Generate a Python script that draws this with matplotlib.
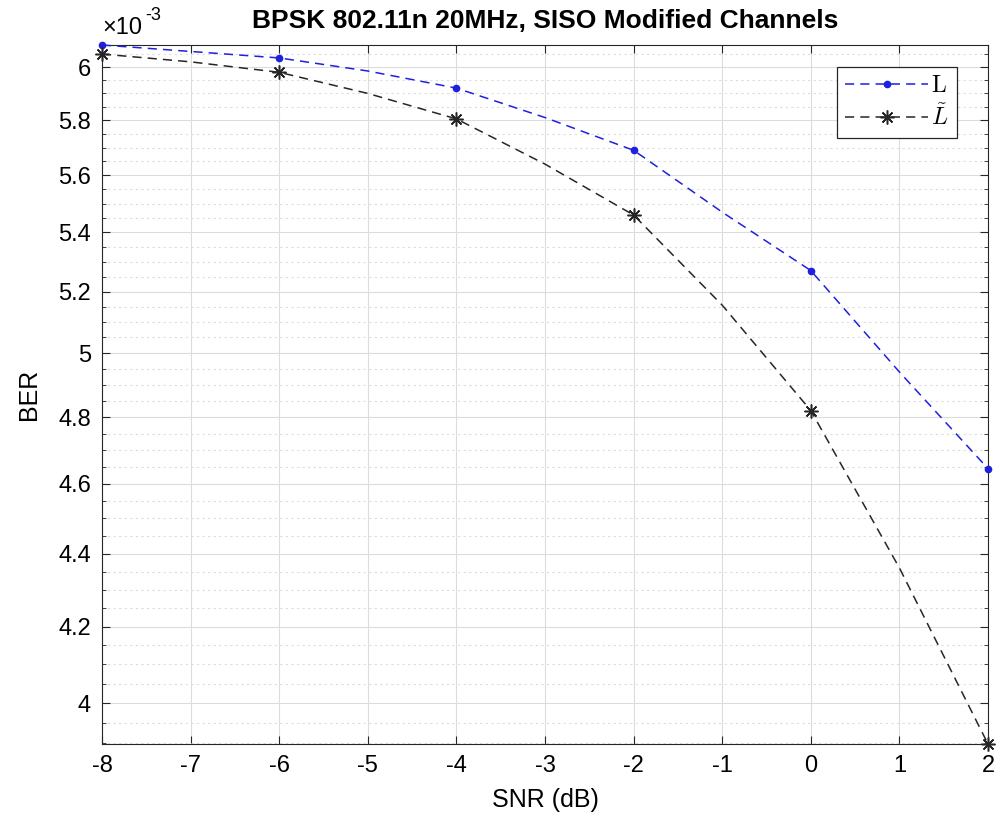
import numpy as np
import matplotlib.pyplot as plt
from matplotlib.ticker import FixedLocator, FuncFormatter, NullFormatter

plt.rcParams['font.family'] = ['Liberation Sans', 'DejaVu Sans']
plt.rcParams['mathtext.fontset'] = 'cm'
plt.rcParams['axes.unicode_minus'] = False

snr = [-8, -7, -6, -5, -4, -3, -2, -1, 0, 1, 2]
ber_L = [6.085, 6.06, 6.035, 5.985, 5.92, 5.81, 5.69, 5.47, 5.27, 4.94, 4.645]
ber_Lt = [6.05, 6.02, 5.98, 5.90, 5.805, 5.64, 5.46, 5.155, 4.82, 4.36, 3.897]
yticks = [4.0, 4.2, 4.4, 4.6, 4.8, 5.0, 5.2, 5.4, 5.6, 5.8, 6.0]

ber_L = np.array(ber_L) * 1e-3
ber_Lt = np.array(ber_Lt) * 1e-3

fig = plt.figure(figsize=(9.97, 8.32), dpi=100)
ax = fig.add_axes([102 / 997, 88 / 832, 886 / 997, 699 / 832])

ax.semilogy(snr, ber_L, color='#1f1fe0', marker='.', markersize=9,
            markevery=2, lw=1.1, dashes=(6, 4), label=r'$\mathrm{L}$',
            clip_on=False, zorder=3)
ax.semilogy(snr, ber_Lt, color='#262626', marker=(8, 2, 0), markersize=10,
            markeredgewidth=1.1, markevery=2, lw=1.1, dashes=(6, 4),
            label=r'$\tilde{L}$', clip_on=False, zorder=3)

ax.set_xlim(-8, 2)
ax.set_ylim(3.897e-3, 6.085e-3)
ax.set_xticks(range(-8, 3))
ax.yaxis.set_major_locator(FixedLocator(np.array(yticks) * 1e-3))
ax.yaxis.set_minor_locator(FixedLocator(np.arange(3.9, 6.1, 0.05) * 1e-3))
ax.yaxis.set_major_formatter(FuncFormatter(lambda v, p: '%g' % round(v * 1e3, 2)))
ax.yaxis.set_minor_formatter(NullFormatter())

ax.grid(True, which='major', color='#dcdcdc', lw=0.8)
ax.grid(True, which='minor', axis='y', color='#dcdcdc', lw=0.8, ls=(0, (2, 3)))
ax.tick_params(which='both', direction='in', top=True, right=True,
               labelsize=17, color='#262626')
ax.tick_params(which='major', length=6, pad=8)
ax.tick_params(which='minor', length=3)
for s in ax.spines.values():
    s.set_color('#262626')

ax.set_xlabel('SNR (dB)', fontsize=18, labelpad=8)
ax.set_ylabel('BER', fontsize=18, labelpad=12)
ax.set_title('BPSK 802.11n 20MHz, SISO Modified Channels', fontsize=19,
             fontweight='bold', pad=12)
ax.text(0.0, 1.008, '×10', transform=ax.transAxes, fontsize=17,
        ha='left', va='bottom')
ax.text(0.049, 1.03, '-3', transform=ax.transAxes, fontsize=13,
        ha='left', va='bottom')

leg = ax.legend(loc='upper right', bbox_to_anchor=(0.965, 0.9685), fontsize=17,
                fancybox=False, edgecolor='#262626', framealpha=1,
                borderaxespad=0, handlelength=3.5, handletextpad=0.15,
                labelspacing=0.3, borderpad=0.35)
leg.get_frame().set_linewidth(0.9)

fig.savefig('out.png', dpi=100)
